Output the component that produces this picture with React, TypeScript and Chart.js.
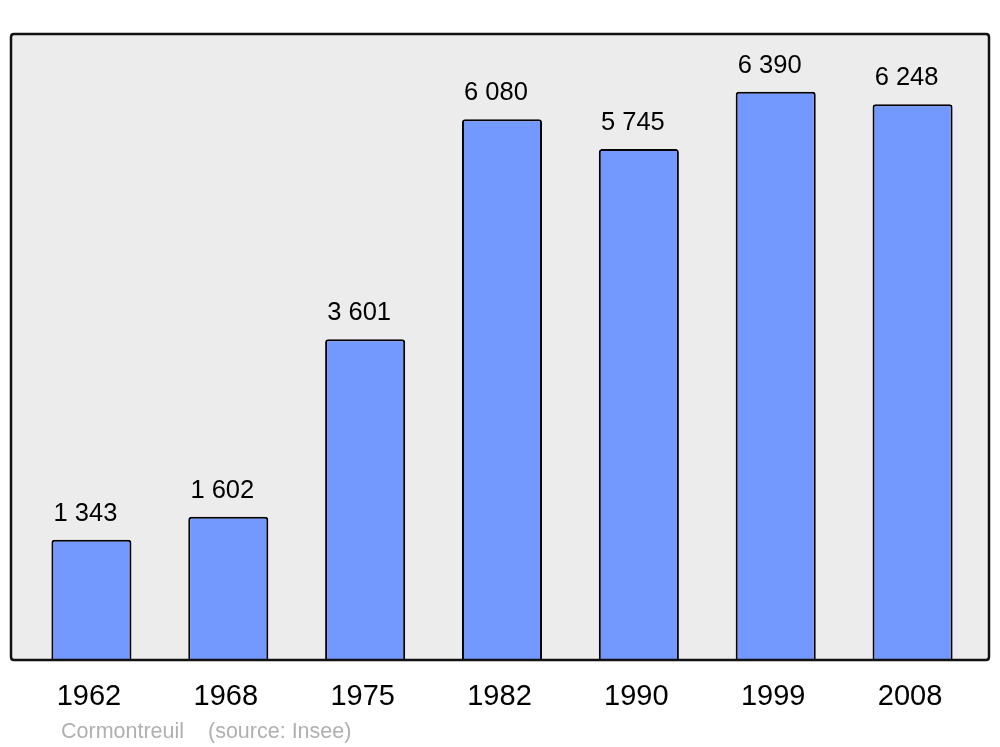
import React, { useEffect, useRef } from "react";
import { Chart, registerables } from "chart.js";

Chart.register(...registerables);

const years = ["1962", "1968", "1975", "1982", "1990", "1999", "2008"];
const population = [1343, 1602, 3601, 6080, 5745, 6390, 6248];
const placeName = "Cormontreuil";
const sourceText = "(source: Insee)";

const FONT = '"Liberation Sans", Arial, sans-serif';

function fmt(n: number): string {
  return String(n).replace(/\B(?=(\d{3})+(?!\d))/g, " ");
}

function roundRect(ctx: CanvasRenderingContext2D, x: number, y: number, w: number, h: number, r: number) {
  ctx.beginPath();
  ctx.moveTo(x + r, y);
  ctx.lineTo(x + w - r, y);
  ctx.quadraticCurveTo(x + w, y, x + w, y + r);
  ctx.lineTo(x + w, y + h - r);
  ctx.quadraticCurveTo(x + w, y + h, x + w - r, y + h);
  ctx.lineTo(x + r, y + h);
  ctx.quadraticCurveTo(x, y + h, x, y + h - r);
  ctx.lineTo(x, y + r);
  ctx.quadraticCurveTo(x, y, x + r, y);
  ctx.closePath();
}

const framePlugin = {
  id: "frame",
  beforeDatasetsDraw(chart: any) {
    const { ctx, chartArea } = chart;
    ctx.save();
    roundRect(ctx, chartArea.left - 12, chartArea.top, chartArea.right - chartArea.left + 20, chartArea.bottom - chartArea.top + 1, 3);
    ctx.fillStyle = "#ececec";
    ctx.fill();
    ctx.restore();
  },
  afterDatasetsDraw(chart: any) {
    const { ctx, chartArea } = chart;
    ctx.save();
    roundRect(ctx, chartArea.left - 12, chartArea.top, chartArea.right - chartArea.left + 20, chartArea.bottom - chartArea.top + 1, 3);
    ctx.lineWidth = 2.5;
    ctx.strokeStyle = "#111111";
    ctx.stroke();

    const meta = chart.getDatasetMeta(0);
    const xScale = chart.scales.x;
    ctx.fillStyle = "#000000";
    ctx.textAlign = "center";
    // value labels
    ctx.font = `25.5px ${FONT}`;
    ctx.textBaseline = "alphabetic";
    meta.data.forEach((bar: any, i: number) => {
      ctx.fillText(fmt(population[i]), bar.x - 6, bar.y - 19);
    });
    // category labels
    ctx.font = `29px ${FONT}`;
    ctx.textBaseline = "middle";
    years.forEach((y, i) => {
      ctx.fillText(y, xScale.getPixelForValue(i) - 2.5, chartArea.bottom + 38);
    });
    // caption
    ctx.font = `21.5px ${FONT}`;
    ctx.fillStyle = "#b0b0b0";
    ctx.textAlign = "left";
    ctx.fillText(placeName, 61, chartArea.bottom + 73);
    ctx.fillText(sourceText, 208, chartArea.bottom + 73);
    ctx.restore();
  },
};

export default function App() {
  const ref = useRef<HTMLCanvasElement | null>(null);
  useEffect(() => {
    if (!ref.current) return;
    const chart = new Chart(ref.current, {
      type: "bar",
      data: {
        labels: years,
        datasets: [
          {
            data: population,
            backgroundColor: "#7399ff",
            borderColor: "#000000",
            borderWidth: 2,
            borderSkipped: "bottom",
            borderRadius: { topLeft: 3, topRight: 3, bottomLeft: 0, bottomRight: 0 },
            barPercentage: 0.585,
            categoryPercentage: 1,
          },
        ],
      },
      options: {
        animation: false,
        responsive: false,
        maintainAspectRatio: false,
        layout: { padding: { left: 23, right: 19, top: 34, bottom: 88 } },
        plugins: { legend: { display: false }, tooltip: { enabled: false } },
        scales: {
          x: { display: false },
          y: { display: false, min: 0, max: 7040 },
        },
      },
      plugins: [framePlugin],
    });
    return () => chart.destroy();
  }, []);
  return (
    <div style={{ position: "absolute", left: 0, top: 0, width: 1000, height: 747, background: "#ffffff" }}>
      <canvas ref={ref} width={1000} height={747} style={{ width: 1000, height: 747 }} />
    </div>
  );
}
